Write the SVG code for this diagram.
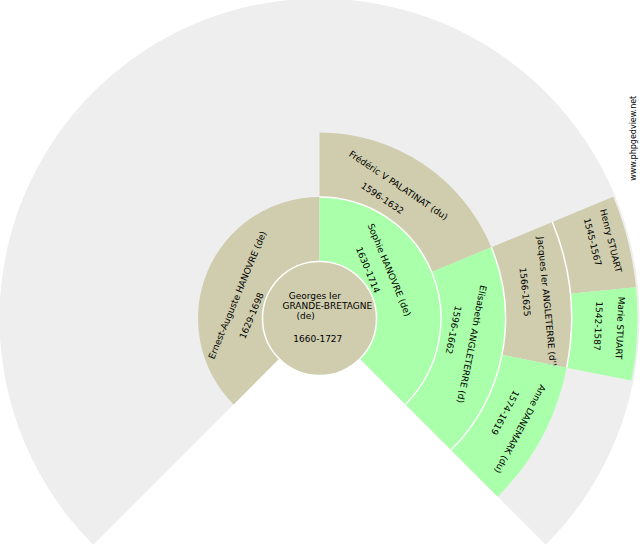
<svg xmlns="http://www.w3.org/2000/svg" width="640" height="550" viewBox="0 0 640 550">
<style>
.m{fill:#cfcdad}
.f{fill:#aaffaa}
.sep{fill:none;stroke:#ffffff;stroke-width:1.5}
text{font-family:"DejaVu Sans",Verdana,sans-serif;font-size:9px;fill:#000000}
.r{text-anchor:middle;dominant-baseline:central}
.c{text-anchor:middle}
.wm{font-size:8px;text-anchor:middle;dominant-baseline:central}
</style>
<rect width="640" height="550" fill="#ffffff"/>
<path id="background" d="M319.5,318.5 L93.23,544.77 A320,320 0 1 1 545.77,544.77 Z" fill="#eeeeee"/>
<g id="connectors"/>
<g id="ernest">
<path class="m" d="M233.59,404.41 A121.5,121.5 0 0 1 319.5,197 L319.5,261.5 A57,57 0 0 0 279.19,358.81 Z"/>
<text class="r" transform="translate(237.5,295) rotate(-67.5)">Ernest-Auguste HANOVRE (de)</text>
<text class="r" transform="translate(251.7,315.8) rotate(-67.5)">1629-1698</text>
</g>
<g id="sophie">
<path class="f" d="M319.5,197 A121.5,121.5 0 0 1 405.41,404.41 L359.81,358.81 A57,57 0 0 0 319.5,261.5 Z"/>
<text class="r" transform="translate(389.2,270) rotate(67.5)">Sophie HANOVRE (de)</text>
<text class="r" transform="translate(367.8,270) rotate(67.5)">1630-1714</text>
</g>
<g id="frederic">
<path class="m" d="M319.5,132.5 A186,186 0 0 1 491.34,247.32 L431.75,272 A121.5,121.5 0 0 0 319.5,197 Z"/>
<text class="r" transform="translate(398.3,185.5) rotate(33.75)">Frédéric V PALATINAT (du)</text>
<text class="r" transform="translate(382.2,198.3) rotate(33.75)">1596-1632</text>
</g>
<g id="elisabeth">
<path class="f" d="M491.34,247.32 A186,186 0 0 1 451.02,450.02 L405.41,404.41 A121.5,121.5 0 0 0 431.75,272 Z"/>
<text class="r" transform="translate(471.7,344.2) rotate(101.25)">Elisabeth ANGLETERRE (d)</text>
<text class="r" transform="translate(453.3,330) rotate(101.25)">1596-1662</text>
</g>
<g id="jacques">
<path class="m" d="M552.32,222.06 A252,252 0 0 1 566.66,367.66 L501.93,354.79 A186,186 0 0 0 491.34,247.32 Z"/>
<text class="r" transform="translate(546.7,301.7) rotate(84.375)">Jacques Ier ANGLETERRE (d')</text>
<text class="r" transform="translate(525,292) rotate(84.375)">1566-1625</text>
</g>
<g id="anne">
<path class="f" d="M566.66,367.66 A252,252 0 0 1 497.69,496.69 L451.02,450.02 A186,186 0 0 0 501.93,354.79 Z"/>
<text class="r" transform="translate(520,429) rotate(118.125)">Anne DANEMARK (du)</text>
<text class="r" transform="translate(505,412.5) rotate(118.125)">1574-1619</text>
</g>
<g id="henry">
<path class="m" d="M613.29,196.81 A318,318 0 0 1 635.97,287.33 L570.29,293.8 A252,252 0 0 0 552.32,222.06 Z"/>
<text class="r" transform="translate(610.8,240.8) rotate(75.94)">Henry STUART</text>
<text class="r" transform="translate(592.5,242) rotate(75.94)">1545-1567</text>
</g>
<g id="marie">
<path class="f" d="M635.97,287.33 A318,318 0 0 1 631.39,380.54 L566.66,367.66 A252,252 0 0 0 570.29,293.8 Z"/>
<text class="r" transform="translate(620,328) rotate(92.81)">Marie STUART</text>
<text class="r" transform="translate(598,326) rotate(92.81)">1542-1587</text>
</g>
<g id="separators">
<path class="sep" d="M319.5,197 A121.5,121.5 0 0 1 405.41,404.41"/>
<path class="sep" d="M491.34,247.32 A186,186 0 0 1 451.02,450.02"/>
<path class="sep" d="M552.32,222.06 A252,252 0 0 1 566.66,367.66"/>
</g>
<g id="georges">
<circle cx="319.5" cy="318.5" r="57" fill="#cfcdad" stroke="#ffffff" stroke-width="1.5"/>
<text class="c" x="314.8" y="299">Georges Ier</text>
<text class="c" x="327.3" y="309.3">GRANDE-BRETAGNE</text>
<text class="c" x="305.7" y="319">(de)</text>
<text class="c" x="317.8" y="341.7">1660-1727</text>
</g>
<text class="wm" transform="translate(633.3,138.3) rotate(-90)">www.phpgedview.net</text>
</svg>
